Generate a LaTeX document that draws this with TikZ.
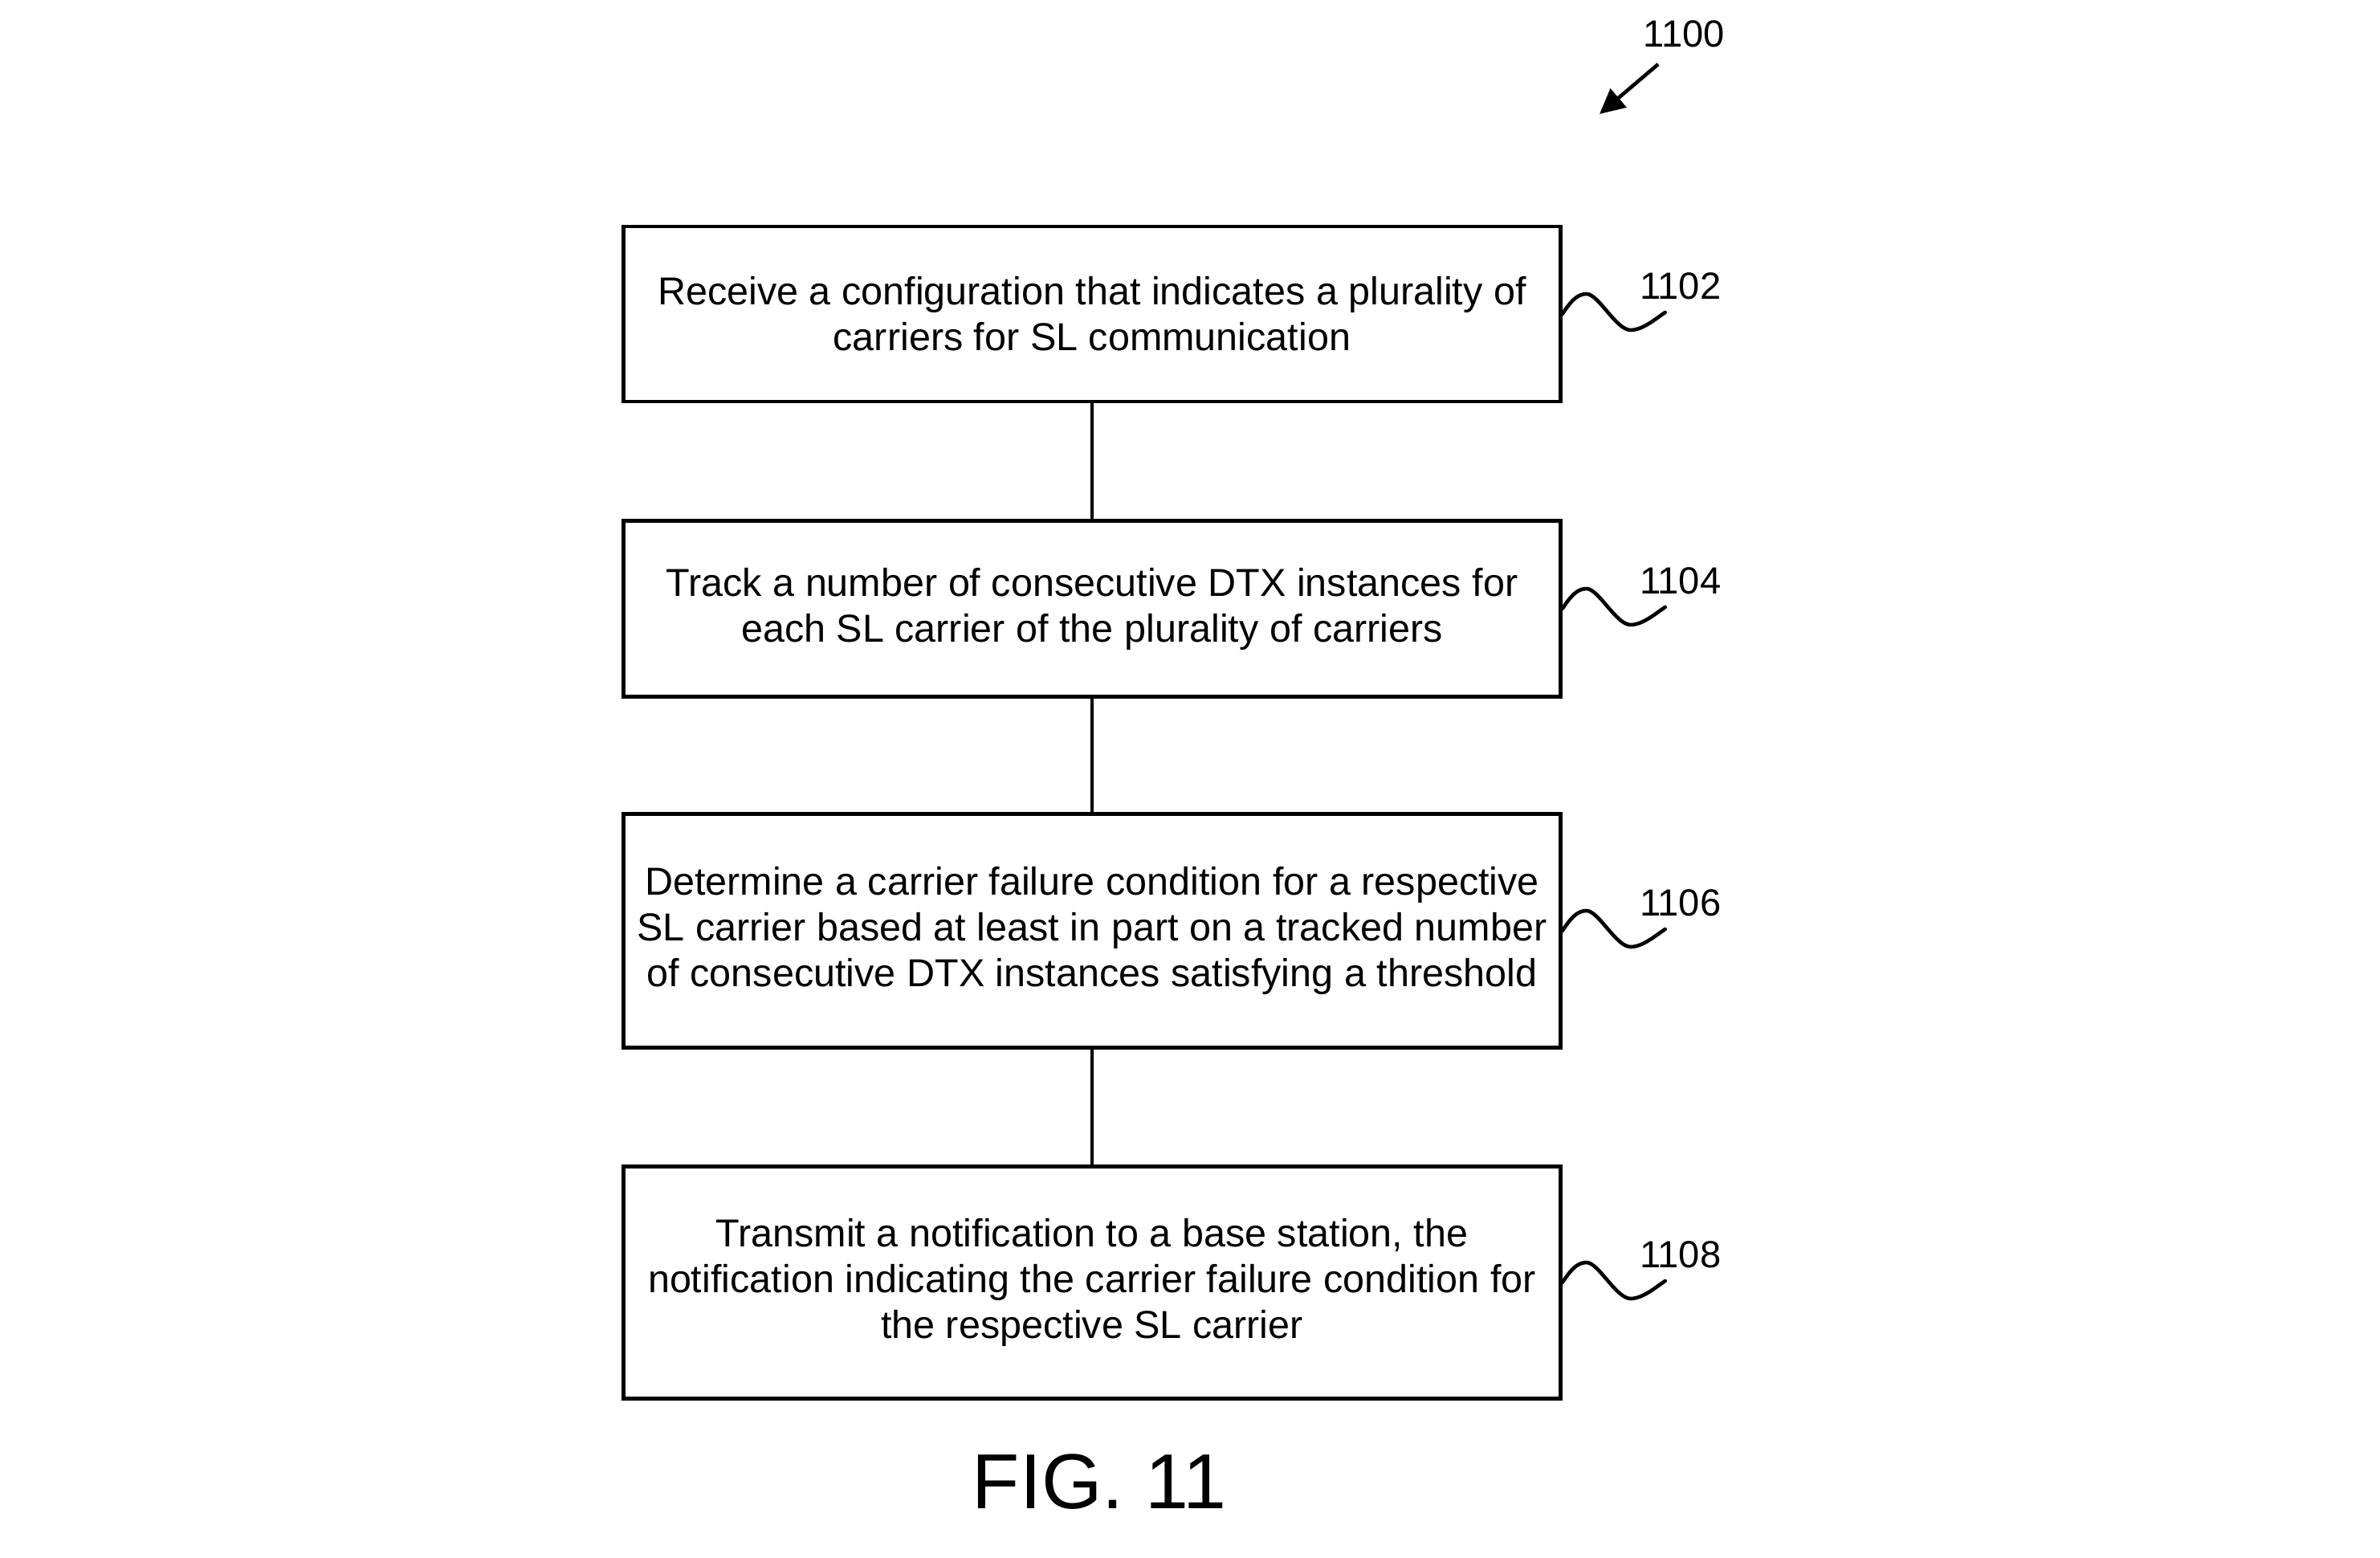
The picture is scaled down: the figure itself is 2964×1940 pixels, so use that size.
\documentclass[tikz,border=0pt]{standalone}
\usepackage{fontspec}
\setmainfont{Liberation Sans}
\usetikzlibrary{arrows.meta,calc}
\begin{document}
\begin{tikzpicture}[x=0.01cm,y=-0.01cm,
  stepbox/.style={draw, line width=1.35pt, minimum width=11.66cm, inner sep=0pt, align=center,
    font=\fontsize{13.8}{16.2}\selectfont},
  lbl/.style={font=\fontsize{13.4}{15}\selectfont, inner sep=0pt},
  conn/.style={line width=1pt},
  squig/.style={line width=1.3pt, line cap=round}]
\useasboundingbox (0,0) rectangle (2964,1940);

\node[stepbox, minimum height=2.18cm] (b1) at (1360,391)
  {Receive a configuration that indicates a plurality of\\carriers for SL communication};
\node[stepbox, minimum height=2.19cm] (b2) at (1360,758)
  {Track a number of consecutive DTX instances for\\each SL carrier of the plurality of carriers};
\node[stepbox, minimum height=2.91cm] (b3) at (1360,1159)
  {Determine a carrier failure condition for a respective\\SL carrier based at least in part on a tracked number\\of consecutive DTX instances satisfying a threshold};
\node[stepbox, minimum height=2.89cm] (b4) at (1360,1597)
  {Transmit a notification to a base station, the\\notification indicating the carrier failure condition for\\the respective SL carrier};

\draw[conn] (b1.south) -- (b2.north);
\draw[conn] (b2.south) -- (b3.north);
\draw[conn] (b3.south) -- (b4.north);

\foreach \b/\t in {b1/1102, b2/1104, b3/1106, b4/1108}{
  \draw[squig] (\b.east) .. controls +(10,-15) and +(-12,0) .. ++(30,-25)
    .. controls +(15,0) and +(-18,0) .. ++(55,45)
    .. controls +(15,0) and +(-12,8) .. ++(43,-22);
  \node[lbl] (l\t) at ($(\b.east)+(147,-35)$) {\t};
}

\node[lbl] (l1100) at (2097,42) {1100};
\coordinate (a0) at (2065,80);
\coordinate (a1) at (1992,142);
\draw[line width=1.3pt, -{Triangle[length=0.31cm,width=0.3cm]}] (a0) -- (a1);

\node[inner sep=0pt, font=\fontsize{27.6}{30}\selectfont] (fig) at (1369,1845) {FIG. 11};
\end{tikzpicture}
\end{document}
